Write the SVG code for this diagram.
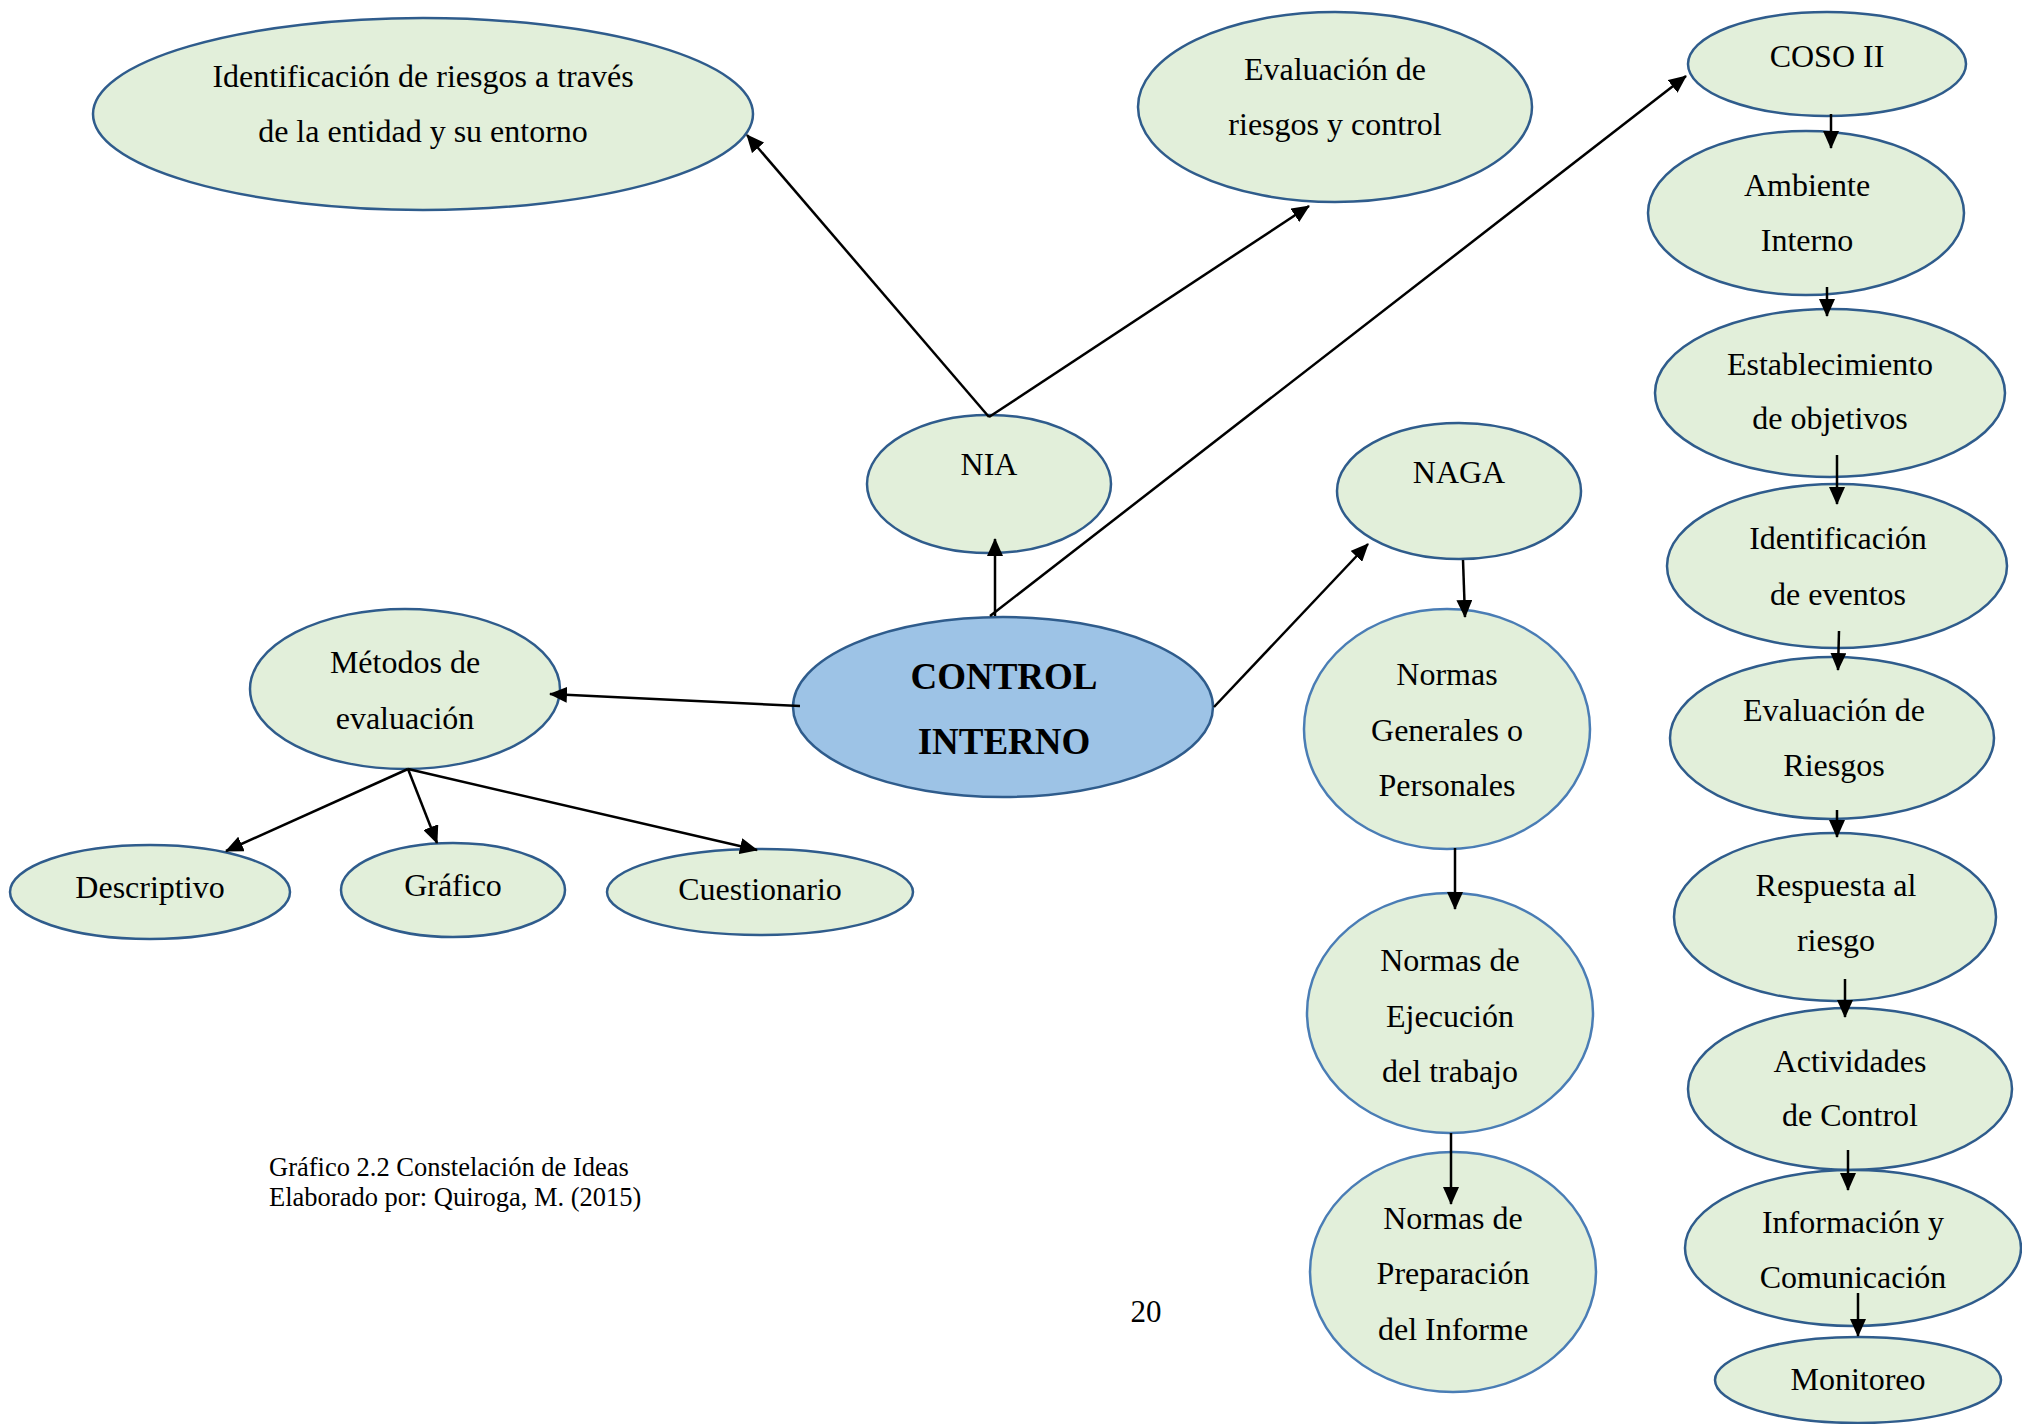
<svg xmlns="http://www.w3.org/2000/svg" width="2022" height="1424" viewBox="0 0 2022 1424">
<style>
.n{fill:#E2EFDA;stroke:#2F5C8C;stroke-width:2.5}
.nl{fill:#E2EFDA;stroke:#4A7DB5;stroke-width:2.5}
.c{fill:#9DC3E6;stroke:#2F5C8C;stroke-width:2.5}
.t{font-family:"Liberation Serif","Times New Roman",serif;font-size:32px;fill:#000;text-anchor:middle}
.b{font-family:"Liberation Serif","Times New Roman",serif;font-size:37px;font-weight:bold;fill:#000;text-anchor:middle}
.cap{font-family:"Liberation Serif","Times New Roman",serif;font-size:26.5px;fill:#000}
.e{stroke:#000;stroke-width:2.5;fill:none;marker-end:url(#ah)}
</style>
<defs>
<marker id="ah" markerUnits="userSpaceOnUse" markerWidth="18" markerHeight="16" viewBox="0 0 18 16" refX="17" refY="8" orient="auto">
<path d="M0,0 L18,8 L0,16 Z" fill="#000"/>
</marker>
</defs>
<rect width="2022" height="1424" fill="#fff"/>
<g id="n-ident-riesgos"><ellipse class="n" cx="423" cy="114" rx="330" ry="96"/><text class="t" x="423" y="87">Identificación de riesgos a través</text><text class="t" x="423" y="142">de la entidad y su entorno</text></g>
<g id="n-eval-riesgos-control"><ellipse class="n" cx="1335" cy="107" rx="197" ry="95"/><text class="t" x="1335" y="80">Evaluación de</text><text class="t" x="1335" y="135">riesgos y control</text></g>
<g id="n-coso"><ellipse class="n" cx="1827" cy="64" rx="139" ry="52"/><text class="t" x="1827" y="67">COSO II</text></g>
<g id="n-ambiente"><ellipse class="n" cx="1806" cy="213" rx="158" ry="82"/><text class="t" x="1807" y="196">Ambiente</text><text class="t" x="1807" y="251">Interno</text></g>
<g id="n-establecimiento"><ellipse class="n" cx="1830" cy="393" rx="175" ry="84"/><text class="t" x="1830" y="375">Establecimiento</text><text class="t" x="1830" y="429">de objetivos</text></g>
<g id="n-identificacion-eventos"><ellipse class="n" cx="1837" cy="566" rx="170" ry="82"/><text class="t" x="1838" y="549">Identificación</text><text class="t" x="1838" y="605">de eventos</text></g>
<g id="n-evaluacion-riesgos"><ellipse class="n" cx="1832" cy="738" rx="162" ry="81"/><text class="t" x="1834" y="721">Evaluación de</text><text class="t" x="1834" y="776">Riesgos</text></g>
<g id="n-respuesta"><ellipse class="n" cx="1835" cy="917" rx="161" ry="84"/><text class="t" x="1836" y="896">Respuesta al</text><text class="t" x="1836" y="951">riesgo</text></g>
<g id="n-actividades"><ellipse class="n" cx="1850" cy="1089" rx="162" ry="81"/><text class="t" x="1850" y="1072">Actividades</text><text class="t" x="1850" y="1126">de Control</text></g>
<g id="n-informacion"><ellipse class="n" cx="1853" cy="1248" rx="168" ry="78"/><text class="t" x="1853" y="1233">Información y</text><text class="t" x="1853" y="1288">Comunicación</text></g>
<g id="n-monitoreo"><ellipse class="n" cx="1858" cy="1380" rx="143" ry="43"/><text class="t" x="1858" y="1390">Monitoreo</text></g>
<g id="n-naga"><ellipse class="n" cx="1459" cy="491" rx="122" ry="68"/><text class="t" x="1459" y="483">NAGA</text></g>
<g id="n-normas-generales"><ellipse class="nl" cx="1447" cy="729" rx="143" ry="120"/><text class="t" x="1447" y="685">Normas</text><text class="t" x="1447" y="741">Generales o</text><text class="t" x="1447" y="796">Personales</text></g>
<g id="n-normas-ejecucion"><ellipse class="nl" cx="1450" cy="1013" rx="143" ry="120"/><text class="t" x="1450" y="971">Normas de</text><text class="t" x="1450" y="1027">Ejecución</text><text class="t" x="1450" y="1082">del trabajo</text></g>
<g id="n-normas-preparacion"><ellipse class="nl" cx="1453" cy="1272" rx="143" ry="120"/><text class="t" x="1453" y="1229">Normas de</text><text class="t" x="1453" y="1284">Preparación</text><text class="t" x="1453" y="1340">del Informe</text></g>
<g id="n-nia"><ellipse class="n" cx="989" cy="484" rx="122" ry="69"/><text class="t" x="989" y="475">NIA</text></g>
<g id="n-control-interno"><ellipse class="c" cx="1003" cy="707" rx="210" ry="90"/><text class="b" x="1004" y="689">CONTROL</text><text class="b" x="1004" y="754">INTERNO</text></g>
<g id="n-metodos"><ellipse class="n" cx="405" cy="689" rx="155" ry="80"/><text class="t" x="405" y="673">Métodos de</text><text class="t" x="405" y="729">evaluación</text></g>
<g id="n-descriptivo"><ellipse class="n" cx="150" cy="892" rx="140" ry="47"/><text class="t" x="150" y="898">Descriptivo</text></g>
<g id="n-grafico"><ellipse class="n" cx="453" cy="890" rx="112" ry="47"/><text class="t" x="453" y="896">Gráfico</text></g>
<g id="n-cuestionario"><ellipse class="n" cx="760" cy="892" rx="153" ry="43"/><text class="t" x="760" y="900">Cuestionario</text></g>
<g id="connectors">
<line class="e" x1="989" y1="417" x2="747" y2="135"/>
<line class="e" x1="989" y1="417" x2="1309" y2="206"/>
<line class="e" x1="990" y1="616" x2="1686" y2="76"/>
<line class="e" x1="995" y1="616" x2="995" y2="539"/>
<line class="e" x1="1214" y1="707" x2="1368" y2="544"/>
<line class="e" x1="800" y1="706" x2="550" y2="694"/>
<line class="e" x1="408" y1="769" x2="226" y2="851"/>
<line class="e" x1="408" y1="769" x2="437" y2="843"/>
<line class="e" x1="408" y1="769" x2="757" y2="850"/>
<line class="e" x1="1463" y1="560" x2="1465" y2="617"/>
<line class="e" x1="1455" y1="848" x2="1455" y2="909"/>
<line class="e" x1="1451" y1="1133" x2="1451" y2="1204"/>
<line class="e" x1="1831" y1="114" x2="1831" y2="148"/>
<line class="e" x1="1827" y1="287" x2="1827" y2="316"/>
<line class="e" x1="1837" y1="455" x2="1837" y2="504"/>
<line class="e" x1="1839" y1="631" x2="1838" y2="670"/>
<line class="e" x1="1837" y1="810" x2="1837" y2="837"/>
<line class="e" x1="1845" y1="979" x2="1845" y2="1017"/>
<line class="e" x1="1848" y1="1150" x2="1848" y2="1190"/>
<line class="e" x1="1858" y1="1293" x2="1858" y2="1336"/>
</g>
<g id="caption">
<text class="cap" x="269" y="1176">Gráfico 2.2 Constelación de Ideas</text>
<text class="cap" x="269" y="1206">Elaborado por: Quiroga, M. (2015)</text>
<text class="t" x="1146" y="1322" style="font-size:31px">20</text>
</g>
</svg>
